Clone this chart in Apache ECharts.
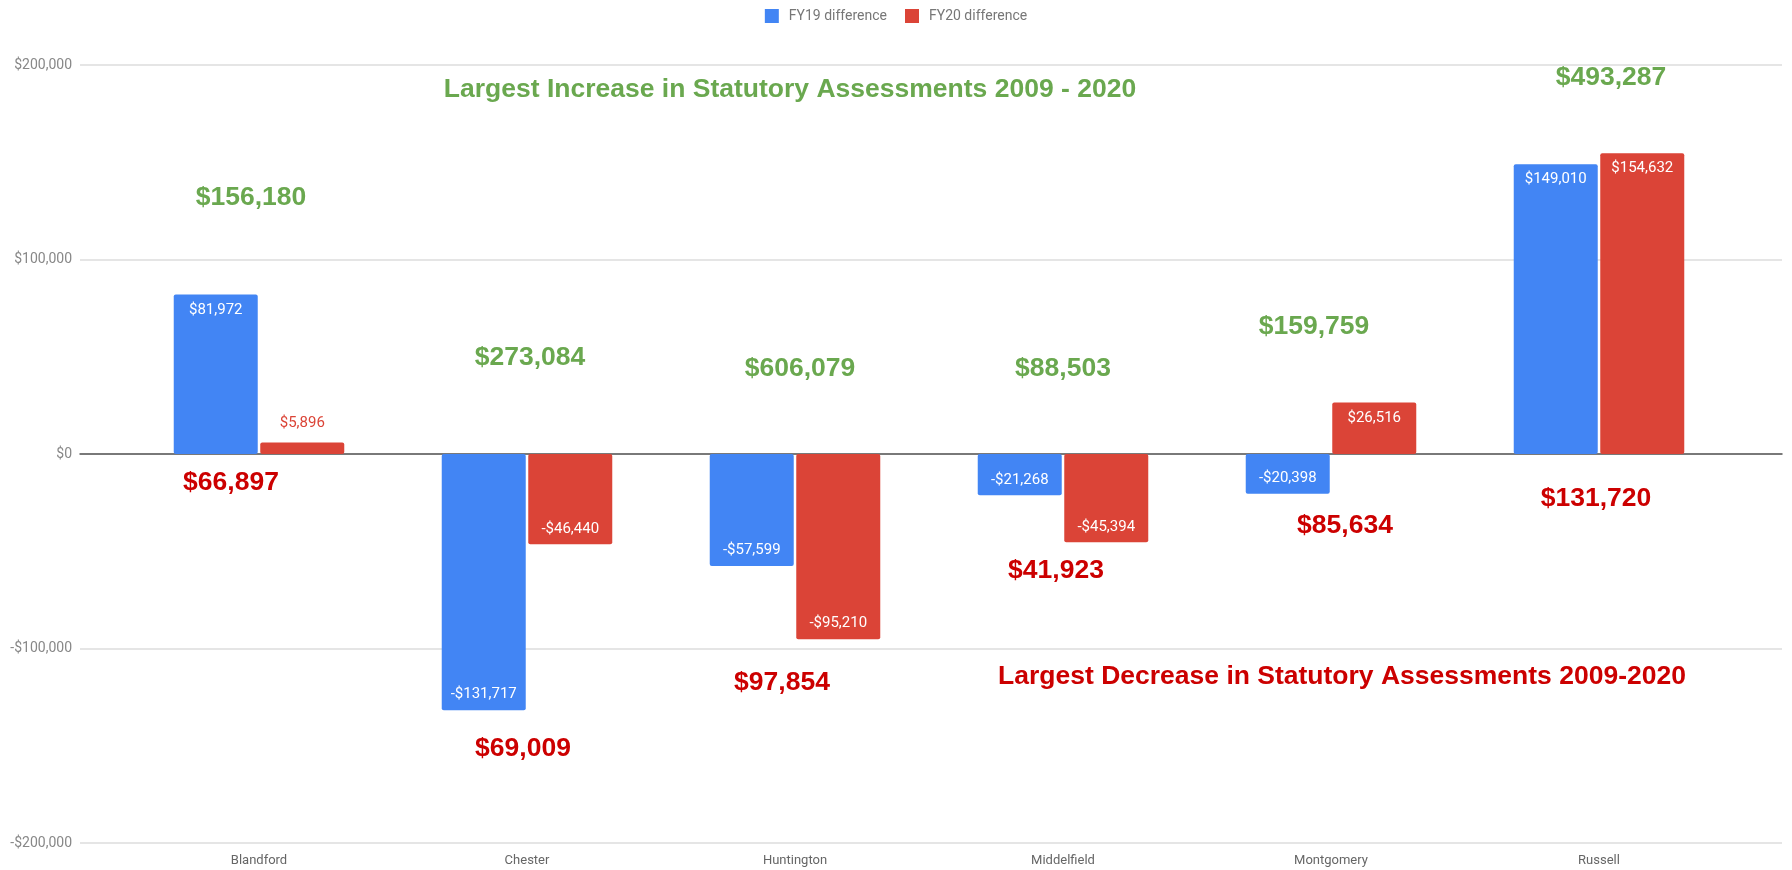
<!DOCTYPE html>
<html lang="en">
<head>
<meta charset="utf-8">
<title>Statutory assessments</title>
<script src="https://cdn.jsdelivr.net/npm/echarts@6/dist/echarts.min.js"></script>
<style>
  html, body { margin: 0; padding: 0; background: #fff; }
  #main { width: 1792px; height: 870px; }
</style>
</head>
<body>
<div id="main"></div>
<script type="text/javascript">
// towns and the two yearly differences
var towns = ['Blandford', 'Chester', 'Huntington', 'Middelfield', 'Montgomery', 'Russell'];
var fy19 = [81972, -131717, -57599, -21268, -20398, 149010];
var fy20 = [5896, -46440, -95210, -45394, 26516, 154632];
var yTicks = [-200000, -100000, 0, 100000, 200000];

// the hand-written notes laid over the chart
var increases = ['$156,180', '$273,084', '$606,079', '$88,503', '$159,759', '$493,287'];
var decreases = ['$66,897', '$69,009', '$97,854', '$41,923', '$85,634', '$131,720'];
var increaseTitle = 'Largest Increase in Statutory Assessments 2009 - 2020';
var decreaseTitle = 'Largest Decrease in Statutory Assessments 2009-2020';

// where the notes sit (pixels)
var incPos = [[251, 198], [530, 358], [800, 369], [1063, 369], [1314, 327], [1611, 78]];
var decPos = [[231, 483], [523, 749], [782, 683], [1056, 571], [1345, 526], [1596, 499]];
var incTitlePos = [790, 90];
var decTitlePos = [1342, 677];

var BLUE = '#4285f4', RED = '#db4437', GREEN = '#6aa84f', DARKRED = '#cc0000';

function money(v) {
    var s = Math.abs(v).toString().replace(/\B(?=(\d{3})+(?!\d))/g, ',');
    return (v < 0 ? '-$' : '$') + s;
}

function barData(values, color) {
    return values.map(function (v) {
        var small = Math.abs(v) < 12000;
        return {
            value: v,
            label: {
                position: small ? 'top' : (v >= 0 ? 'insideTop' : 'insideBottom'),
                color: small ? color : '#fff',
                distance: small ? 12 : 8
            }
        };
    });
}

function note(text, pos, color) {
    return {
        type: 'text',
        x: pos[0],
        y: pos[1],
        z: 100,
        style: {
            text: text,
            fill: color,
            font: 'bold 26.5px "Liberation Sans", Arial, sans-serif',
            textAlign: 'center',
            textVerticalAlign: 'middle'
        }
    };
}

var notes = [];
increases.forEach(function (t, i) { notes.push(note(t, incPos[i], GREEN)); });
decreases.forEach(function (t, i) { notes.push(note(t, decPos[i], DARKRED)); });
notes.push(note(increaseTitle, incTitlePos, GREEN));
notes.push(note(decreaseTitle, decTitlePos, DARKRED));

var myChart = echarts.init(document.getElementById('main'));
var option = {
    backgroundColor: '#fff',
    animation: false,
    legend: {
        top: 4,
        left: 'center',
        icon: 'rect',
        itemWidth: 14,
        itemHeight: 14,
        itemGap: 18,
        textStyle: { fontFamily: 'Roboto', fontSize: 14, color: '#777', padding: [0, 0, 0, 5] },
        data: ['FY19 difference', 'FY20 difference']
    },
    grid: [
        { left: 80, right: 10, top: 65, bottom: 27 },
        { left: 125, right: 59, top: 65, bottom: 27 }
    ],
    xAxis: [
        {
            gridIndex: 0, type: 'category', data: [''],
            axisLine: { onZero: true, lineStyle: { color: '#555', width: 1.5 } },
            axisTick: { show: false }, axisLabel: { show: false }
        },
        {
            gridIndex: 1, type: 'category', data: towns,
            axisLine: { show: false, onZero: false },
            axisTick: { show: false },
            axisLabel: { fontFamily: 'Roboto', fontSize: 13, color: '#666', margin: 11 }
        }
    ],
    yAxis: [
        {
            gridIndex: 0, type: 'value', min: -200000, max: 200000, interval: 100000,
            axisLine: { show: false }, axisTick: { show: false },
            axisLabel: {
                fontFamily: 'Roboto', fontSize: 14, color: '#888', margin: 8,
                formatter: function (v) { return money(v); }
            },
            splitLine: { lineStyle: { color: '#dcdcdc', width: 1.5 } }
        },
        {
            gridIndex: 1, type: 'value', min: -200000, max: 200000, interval: 100000,
            show: false, splitLine: { show: false }
        }
    ],
    series: [
        {
            name: 'FY19 difference', type: 'bar',
            xAxisIndex: 1, yAxisIndex: 1,
            barWidth: 84, barGap: '3%',
            itemStyle: { color: BLUE, borderRadius: 2 },
            label: { show: true, fontFamily: 'Roboto', fontSize: 15, formatter: function (p) { return money(p.value); } },
            data: barData(fy19, BLUE)
        },
        {
            name: 'FY20 difference', type: 'bar',
            xAxisIndex: 1, yAxisIndex: 1,
            barWidth: 84, barGap: '3%',
            itemStyle: { color: RED, borderRadius: 2 },
            label: { show: true, fontFamily: 'Roboto', fontSize: 15, formatter: function (p) { return money(p.value); } },
            data: barData(fy20, RED)
        }
    ],
    graphic: notes
};
myChart.setOption(option);
window.onresize = myChart.resize;
</script>
</body>
</html>
